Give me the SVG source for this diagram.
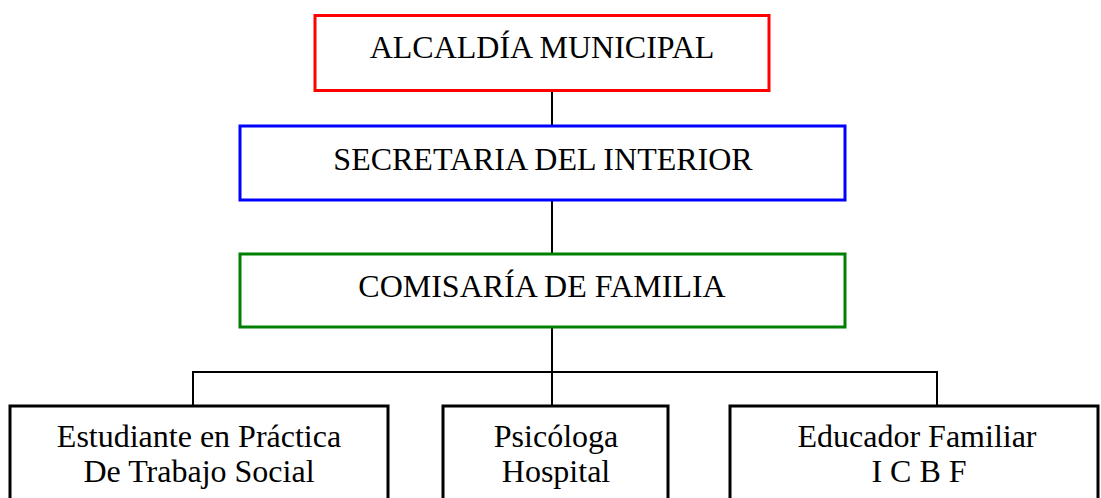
<svg xmlns="http://www.w3.org/2000/svg" width="1101" height="498" viewBox="0 0 1101 498">
<style>
.box{fill:#fff;stroke-width:3}
.t{font-family:"Liberation Serif","Times New Roman",serif;font-size:32px;fill:#000;text-anchor:middle}
.c{fill:none;stroke:#000;stroke-width:2}
</style>
<rect width="1101" height="498" fill="#fff"/>
<g id="connectors">
<line class="c" x1="552" y1="90" x2="552" y2="126"/>
<line class="c" x1="552" y1="200" x2="552" y2="254"/>
<line class="c" x1="552" y1="327" x2="552" y2="406"/>
<polyline class="c" points="193,406 193,372 937,372 937,406"/>
</g>
<g id="alcaldia">
<rect class="box" x="315" y="15.5" width="454" height="75" stroke="#ff0000"/>
<text class="t" x="542" y="58">ALCALDÍA MUNICIPAL</text>
</g>
<g id="secretaria">
<rect class="box" x="240" y="126" width="605" height="74" stroke="#0000ff"/>
<text class="t" x="543" y="170">SECRETARIA DEL INTERIOR</text>
</g>
<g id="comisaria">
<rect class="box" x="240" y="254" width="605" height="73" stroke="#008000"/>
<text class="t" x="542" y="297">COMISARÍA DE FAMILIA</text>
</g>
<g id="estudiante">
<rect class="box" x="10" y="406" width="378" height="100" stroke="#000"/>
<text class="t" x="199" y="447">Estudiante en Práctica</text>
<text class="t" x="199" y="482">De Trabajo Social</text>
</g>
<g id="psicologa">
<rect class="box" x="443" y="406" width="225" height="100" stroke="#000"/>
<text class="t" x="556" y="447">Psicóloga</text>
<text class="t" x="556" y="482">Hospital</text>
</g>
<g id="educador">
<rect class="box" x="730" y="406" width="368" height="100" stroke="#000"/>
<text class="t" x="917" y="447">Educador Familiar</text>
<text class="t" x="919" y="482">I C B F</text>
</g>
</svg>
